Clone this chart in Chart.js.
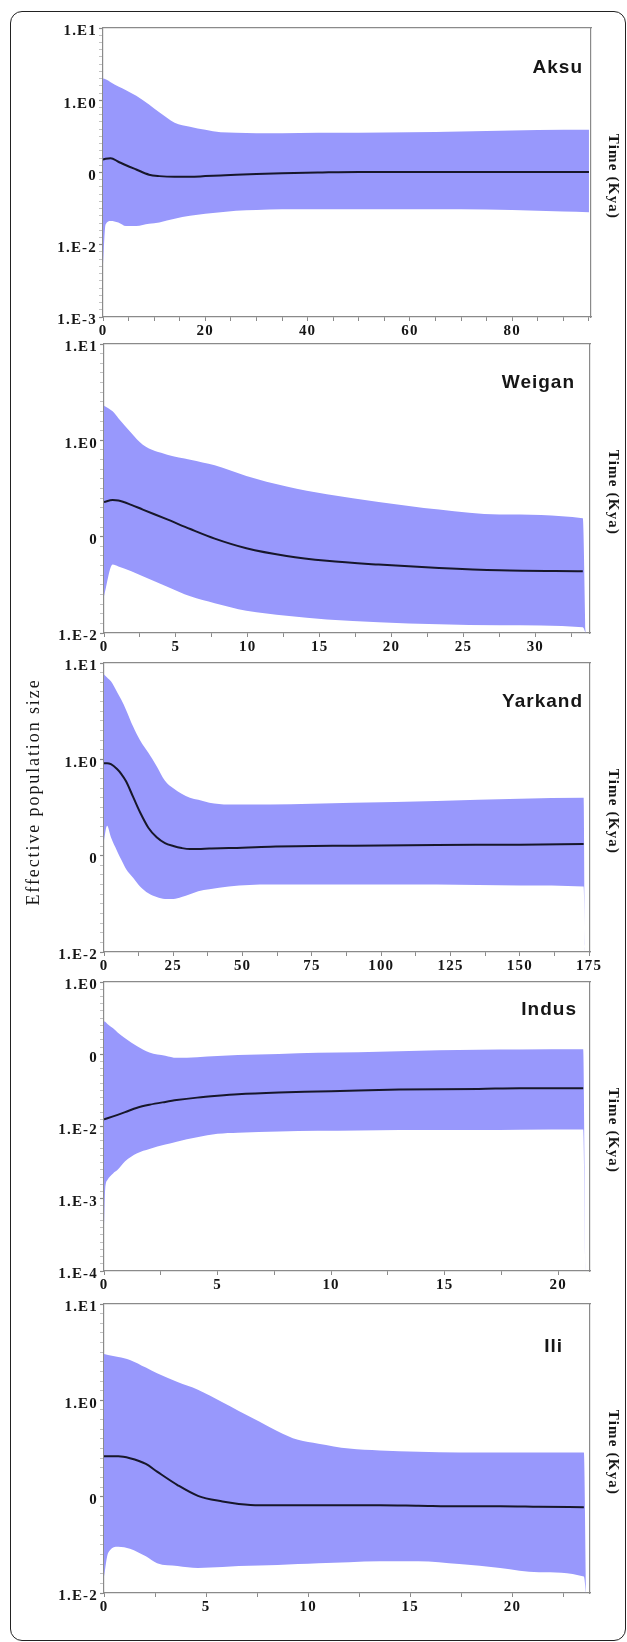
<!DOCTYPE html>
<html>
<head>
<meta charset="utf-8">
<script src="https://cdn.jsdelivr.net/npm/chart.js@4.4.1/dist/chart.umd.min.js"></script>
<style>
  body { margin: 0; background: #fff; width: 627px; height: 1642px; position: relative; overflow: hidden; }
  .frame { position: absolute; left: 10px; top: 11px; width: 616px; height: 1630px; border: 1.5px solid #222; border-radius: 12px; box-sizing: border-box; }
  canvas { position: absolute; left: 0; }
</style>
</head>
<body>
<div class="frame"></div>
<script>
// Aksu
const aksuTime  = [0, 0.5, 1.5, 3, 4.5, 6.5, 9, 11, 14, 17, 20, 23, 26, 30, 35, 42, 50, 60, 70, 80, 90, 95]
const aksuMean  = [0.151, 0.155, 0.158, 0.141, 0.126, 0.110, 0.0933, 0.0891, 0.0871, 0.0871, 0.0891, 0.0912, 0.0933, 0.0955, 0.0977, 0.1, 0.102, 0.102, 0.102, 0.102, 0.102, 0.102]
const aksuUpper = [2.0, 1.95, 1.78, 1.55, 1.38, 1.15, 0.87, 0.68, 0.49, 0.43, 0.39, 0.36, 0.355, 0.35, 0.35, 0.355, 0.355, 0.36, 0.37, 0.38, 0.39, 0.39]
const aksuLower = [0.0049, 0.019, 0.0214, 0.0204, 0.0182, 0.0182, 0.0195, 0.0204, 0.0229, 0.0251, 0.0269, 0.0282, 0.0295, 0.0302, 0.0309, 0.0309, 0.0309, 0.0309, 0.0309, 0.0302, 0.0288, 0.0282]
const aksuYLabels = ['1.E-3', '1.E-2', '0', '1.E0', '1.E1']

// Weigan
const weiganTime  = [0, 0.6, 1, 1.9, 2.7, 4.4, 6, 7.7, 9.9, 12.7, 15.5, 19.1, 23.3, 27.5, 33.3, 33.5]
const weiganMean  = [0.229, 0.24, 0.237, 0.214, 0.191, 0.151, 0.120, 0.0955, 0.0759, 0.0631, 0.0562, 0.0513, 0.0473, 0.0447, 0.0437, null]
const weiganUpper = [2.29, 2.0, 1.70, 1.19, 0.90, 0.71, 0.63, 0.55, 0.427, 0.331, 0.275, 0.229, 0.191, 0.170, 0.155, 0.0105]
const weiganLower = [0.024, 0.0513, 0.049, 0.0437, 0.0389, 0.0302, 0.024, 0.0204, 0.017, 0.0151, 0.0138, 0.0129, 0.0123, 0.012, 0.0115, 0.01]
const weiganYLabels = ['1.E-2', '0', '1.E0', '1.E1']

// Yarkand
const yarkandTime  = [0, 1.1, 2.5, 4.7, 6.2, 8, 10.5, 13, 16, 19, 22, 25, 28, 31, 34, 38, 45, 60, 90, 120, 150, 173, 173.5]
const yarkandMean  = [0.912, 0.912, 0.891, 0.794, 0.708, 0.589, 0.407, 0.282, 0.195, 0.155, 0.135, 0.126, 0.120, 0.117, 0.117, 0.119, 0.120, 0.124, 0.127, 0.129, 0.130, 0.132, null]
const yarkandUpper = [7.59, 7.08, 6.46, 5.01, 4.17, 3.24, 2.19, 1.58, 1.17, 0.85, 0.60, 0.50, 0.44, 0.40, 0.38, 0.355, 0.34, 0.34, 0.355, 0.37, 0.39, 0.40, 0.0105]
const yarkandLower = [0.145, 0.204, 0.155, 0.112, 0.0912, 0.0724, 0.0589, 0.0479, 0.0407, 0.0372, 0.0355, 0.0355, 0.0372, 0.0398, 0.0427, 0.0447, 0.0479, 0.0501, 0.0501, 0.0501, 0.049, 0.0479, 0.01]
const yarkandYLabels = ['1.E-2', '0', '1.E0', '1.E1']

// Indus
const indusTime  = [0, 0.05, 0.15, 0.4, 0.6, 0.93, 1.46, 2, 2.7, 3.2, 4.1, 5, 5.9, 7.7, 9.4, 11.2, 13, 16.5, 18.3, 21.1, 21.2]
const indusMean  = [0.0126, 0.0127, 0.013, 0.0138, 0.0145, 0.0158, 0.0182, 0.02, 0.0219, 0.0232, 0.0251, 0.0266, 0.0279, 0.0295, 0.0305, 0.0316, 0.0324, 0.0331, 0.0339, 0.0339, null]
const indusUpper = [0.285, 0.282, 0.263, 0.229, 0.2, 0.166, 0.129, 0.106, 0.0955, 0.0891, 0.0912, 0.0944, 0.0977, 0.101, 0.105, 0.107, 0.110, 0.115, 0.116, 0.117, 0.000105]
const indusLower = [0.00037, 0.00132, 0.00182, 0.00224, 0.00251, 0.00331, 0.00427, 0.0049, 0.00562, 0.00617, 0.00708, 0.00794, 0.00822, 0.00851, 0.00871, 0.00881, 0.00891, 0.00891, 0.00902, 0.00912, 0.0001]
const indusYLabels = ['1.E-4', '1.E-3', '1.E-2', '0', '1.E0']

// Ili
const iliTime  = [0, 0.2, 0.7, 1.27, 2.05, 2.6, 3.6, 4.6, 5.8, 6.6, 7.6, 8.5, 9.5, 10.5, 12, 13.5, 15.4, 17.4, 19.4, 21.3, 23.5, 23.6]
const iliMean  = [0.263, 0.263, 0.263, 0.251, 0.219, 0.182, 0.132, 0.102, 0.0891, 0.0841, 0.0813, 0.0813, 0.0813, 0.0813, 0.0813, 0.0813, 0.0804, 0.0794, 0.0794, 0.0785, 0.0776, null]
const iliUpper = [3.02, 2.95, 2.82, 2.63, 2.19, 1.91, 1.55, 1.29, 0.955, 0.776, 0.603, 0.479, 0.389, 0.355, 0.316, 0.302, 0.292, 0.288, 0.288, 0.288, 0.288, 0.0105]
const iliLower = [0.0148, 0.026, 0.0302, 0.0288, 0.024, 0.0204, 0.0191, 0.0182, 0.0186, 0.0191, 0.0193, 0.0195, 0.02, 0.0204, 0.0209, 0.0214, 0.0214, 0.02, 0.0182, 0.0164, 0.0148, 0.01]
const iliYLabels = ['1.E-2', '0', '1.E0', '1.E1']

const fillColor = '#9898fc'
const lineColor = '#17172a'
const axisColor = '#8a8a8a'
const textColor = '#161616'
const serif = '"Liberation Serif", "DejaVu Serif", serif'
const sans = '"Liberation Sans", Arial, sans-serif'

const padTop = 20
const axisHeight = 30
const plotHeight = 289

const panels = [
    { name: 'Aksu', time: aksuTime, mean: aksuMean, upper: aksuUpper, lower: aksuLower, yLabels: aksuYLabels,
      yMin: 1e-3, yMax: 10, xMax: 95.4, xStep: 5, xLabelStep: 20, top: 28, left: 103, right: 591, inset: 8, dy: 40 },
    { name: 'Weigan', time: weiganTime, mean: weiganMean, upper: weiganUpper, lower: weiganLower, yLabels: weiganYLabels,
      yMin: 1e-2, yMax: 10, xMax: 33.8, xStep: 2.5, xLabelStep: 5, top: 344, left: 104, right: 590, inset: 15, dy: 39 },
    { name: 'Yarkand', time: yarkandTime, mean: yarkandMean, upper: yarkandUpper, lower: yarkandLower, yLabels: yarkandYLabels,
      yMin: 1e-2, yMax: 10, xMax: 175.3, xStep: 12.5, xLabelStep: 25, top: 663, left: 104, right: 590, inset: 7, dy: 38.5,
      sideTitle: 'Effective population size', sideX: 34, sideDy: 129 },
    { name: 'Indus', time: indusTime, mean: indusMean, upper: indusUpper, lower: indusLower, yLabels: indusYLabels,
      yMin: 1e-4, yMax: 1, xMax: 21.4, xStep: 2.5, xLabelStep: 5, top: 982, left: 104, right: 590, inset: 13, dy: 28 },
    { name: 'Ili', time: iliTime, mean: iliMean, upper: iliUpper, lower: iliLower, yLabels: iliYLabels,
      yMin: 1e-2, yMax: 10, xMax: 23.8, xStep: 2.5, xLabelStep: 5, top: 1304, left: 104, right: 590, inset: 27, dy: 42.5 },
]

const toPoints = (time, values) => time.map((x, i) => ({ x, y: values[i] })).filter(p => p.y !== null)

const logTicks = (min, max) => {
    const lo = Math.round(Math.log10(min))
    const hi = Math.round(Math.log10(max))
    const ticks = []
    for (let e = lo; e <= hi; e++) {
        ticks.push({ value: Math.pow(10, e), major: true })
        if (e < hi) {
            for (let j = 1; j < 10; j++) ticks.push({ value: Math.pow(10, e + j / 10), major: false })
        }
    }
    return ticks
}

// names inside the plot, the side titles, and letter spacing for the tick text
const panelText = {
    id: 'panelText',
    beforeDraw(chart) {
        chart.ctx.letterSpacing = '1.2px'
    },
    beforeDatasetsDraw(chart) {
        chart.ctx.letterSpacing = '0px'
    },
    afterDraw(chart, args, opts) {
        const { ctx, chartArea } = chart
        ctx.save()
        ctx.fillStyle = textColor
        ctx.letterSpacing = '1px'
        ctx.font = `bold 19px ${sans}`
        ctx.textAlign = 'right'
        ctx.textBaseline = 'middle'
        ctx.fillText(opts.name, chartArea.right - opts.inset, chartArea.top + opts.dy)

        ctx.save()
        ctx.letterSpacing = '1.2px'
        ctx.font = `bold 15px ${serif}`
        ctx.textAlign = 'center'
        ctx.translate(613, (chartArea.top + chartArea.bottom) / 2 + 4)
        ctx.rotate(Math.PI / 2)
        ctx.fillText('Time (Kya)', 0, 0)
        ctx.restore()

        if (opts.sideTitle) {
            ctx.letterSpacing = '1.9px'
            ctx.font = `18px ${serif}`
            ctx.textAlign = 'center'
            ctx.translate(opts.sideX, chartArea.top + opts.sideDy)
            ctx.rotate(-Math.PI / 2)
            ctx.fillText(opts.sideTitle, 0, 0)
        }
        ctx.restore()
    }
}

const makeChart = (p) => {
    const canvas = document.createElement('canvas')
    canvas.width = 627
    canvas.height = padTop + plotHeight + axisHeight
    canvas.style.top = (p.top - padTop) + 'px'
    document.body.appendChild(canvas)

    const isLabel = v => Math.abs(v / p.xLabelStep - Math.round(v / p.xLabelStep)) < 1e-6
    const lo = Math.round(Math.log10(p.yMin))

    const datasets = [
        {
            label: 'mean',
            data: toPoints(p.time, p.mean),
            borderColor: lineColor,
            borderWidth: 2,
            pointRadius: 0,
            cubicInterpolationMode: 'monotone',
            fill: false
        },
        {
            label: 'upper',
            data: toPoints(p.time, p.upper),
            borderWidth: 0,
            borderColor: fillColor,
            backgroundColor: fillColor,
            pointRadius: 0,
            cubicInterpolationMode: 'monotone',
            fill: '+1'
        },
        {
            label: 'lower',
            data: toPoints(p.time, p.lower),
            borderWidth: 0,
            borderColor: fillColor,
            pointRadius: 0,
            cubicInterpolationMode: 'monotone',
            fill: false
        },
    ]

    new Chart(canvas, {
        type: 'line',
        data: { datasets },
        plugins: [panelText],
        options: {
            responsive: false,
            animation: false,
            events: [],
            layout: { padding: { top: padTop, left: 0, right: 0, bottom: 0 }, autoPadding: false },
            plugins: {
                legend: { display: false },
                tooltip: { enabled: false },
                panelText: { name: p.name, inset: p.inset, dy: p.dy, sideTitle: p.sideTitle, sideX: p.sideX, sideDy: p.sideDy }
            },
            scales: {
                x: {
                    type: 'linear',
                    position: 'bottom',
                    min: 0,
                    max: p.xMax,
                    afterFit: s => { s.height = axisHeight },
                    border: { color: axisColor, width: 1.2 },
                    grid: { drawOnChartArea: false, tickLength: 4, tickColor: axisColor, tickWidth: 1 },
                    ticks: {
                        stepSize: p.xStep,
                        includeBounds: false,
                        autoSkip: false,
                        maxRotation: 0,
                        padding: 1,
                        color: textColor,
                        font: { family: serif, size: 15, weight: 'bold' },
                        callback: v => isLabel(v) ? String(Math.round(v)) : ''
                    }
                },
                xTop: {
                    type: 'linear',
                    position: 'top',
                    afterFit: s => { s.height = 0 },
                    border: { color: axisColor, width: 1.2 },
                    grid: { drawOnChartArea: false, drawTicks: false },
                    ticks: { display: false }
                },
                y: {
                    type: 'logarithmic',
                    position: 'left',
                    min: p.yMin,
                    max: p.yMax,
                    afterFit: s => { s.width = p.left },
                    afterBuildTicks: s => { s.ticks = logTicks(p.yMin, p.yMax) },
                    border: { color: axisColor, width: 1.2 },
                    grid: {
                        drawOnChartArea: false,
                        tickLength: 4,
                        tickColor: c => c.tick && c.tick.major ? axisColor : '#b4b4b4',
                        tickWidth: c => c.tick && c.tick.major ? 1.2 : 0.8
                    },
                    ticks: {
                        autoSkip: false,
                        padding: 2,
                        labelOffset: 3.5,
                        color: textColor,
                        font: { family: serif, size: 15, weight: 'bold' },
                        callback: (v, i, ticks) => ticks[i].major ? p.yLabels[Math.round(Math.log10(v)) - lo] : ''
                    }
                },
                yRight: {
                    type: 'linear',
                    position: 'right',
                    afterFit: s => { s.width = 627 - p.right },
                    border: { color: axisColor, width: 1.2 },
                    grid: { drawOnChartArea: false, drawTicks: false },
                    ticks: { display: false }
                }
            }
        }
    })
}

panels.forEach(makeChart)
</script>
</body>
</html>
